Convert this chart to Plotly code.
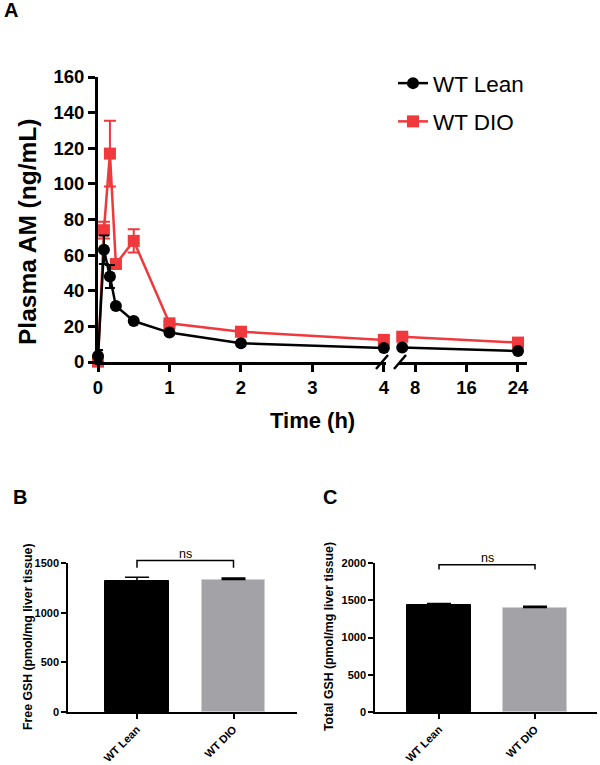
import plotly.graph_objects as go

# ---- Panel A: plasma AM time course ----
time_early = [0, 0.083, 0.167, 0.25, 0.5, 1, 2, 4]
time_late = [6, 24]
lean_early = [3.4, 63, 48, 31.5, 23, 16.5, 10.5, 7.8]
lean_early_err = [3.3, 8, 6.5, 1.0, 1.0, 1.0, 0.8, 0.5]
lean_late = [8.2, 6.2]
lean_late_err = [0.5, 0.5]
dio_early = [0.2, 74, 117, 55, 68, 21.7, 17, 12.4]
dio_early_err = [0.5, 4.7, 18.5, 1.5, 6.5, 1.0, 1.0, 0.8]
dio_late = [14.2, 10.9]
dio_late_err = [0.8, 0.8]

# ---- Panels B and C: GSH bars ----
groups = ['WT Lean', 'WT DIO']
free_gsh = [1322, 1333]
free_gsh_err = [34, 16]
total_gsh = [1435, 1402]
total_gsh_err = [20, 16]

BLACK = '#000000'
RED = '#F0393C'
GRAY = '#A3A3A7'
FONT = 'Liberation Sans, Arial, sans-serif'

W, H = 600, 765


def px_x(p):
    return p / W


def px_y(p):
    return 1 - p / H


def to_paper(v, dom, rng):
    return dom[0] + (v - rng[0]) / (rng[1] - rng[0]) * (dom[1] - dom[0])


xa_dom = [px_x(98), px_x(386)]
xa2_dom = [px_x(399), px_x(527)]
ya_dom = [px_y(362), px_y(77)]
xa_rng = [0, 4.03]
xa2_rng = [5.5, 25.4]

xb_dom = [px_x(68), px_x(297)]
xb_rng = [-0.715, 1.658]
yb_dom = [px_y(712), px_y(563)]
yb_rng = [0, 1500]

xc_dom = [px_x(375), px_x(597)]
xc_rng = [-0.667, 1.646]
yc_dom = [px_y(712), px_y(563)]
yc_rng = [0, 2000]

fig = go.Figure()


def add_series(name, color, symbol, t1, v1, e1, t2, v2, e2, rank, cap):
    common = dict(
        mode='lines+markers',
        line=dict(color=color, width=2.5),
        marker=dict(color=color, size=12, symbol=symbol),
        cliponaxis=False,
        legendgroup=name,
    )
    fig.add_trace(go.Scatter(
        x=t1, y=v1, name=name, xaxis='x', yaxis='y', showlegend=True,
        legendrank=rank,
        error_y=dict(type='data', array=e1, color=color, thickness=2, width=cap),
        **common
    ))
    fig.add_trace(go.Scatter(
        x=t2, y=v2, name=name, xaxis='x2', yaxis='y', showlegend=False,
        error_y=dict(type='data', array=e2, color=color, thickness=2, width=cap),
        **common
    ))


add_series('WT DIO', RED, 'square', time_early, dio_early, dio_early_err,
           time_late, dio_late, dio_late_err, 2, 6)
add_series('WT Lean', BLACK, 'circle', time_early, lean_early, lean_early_err,
           time_late, lean_late, lean_late_err, 1, 5)

# bars
fig.add_trace(go.Bar(
    x=groups, y=free_gsh, xaxis='x3', yaxis='y3', width=0.663, showlegend=False,
    marker=dict(color=[BLACK, GRAY], line=dict(color=[BLACK, '#d0d0d0'], width=1)),
    error_y=dict(type='data', array=free_gsh_err, arrayminus=[0, 0], symmetric=False,
                 color=BLACK, thickness=1.5, width=12),
))
fig.add_trace(go.Bar(
    x=groups, y=total_gsh, xaxis='x4', yaxis='y4', width=0.66, showlegend=False,
    marker=dict(color=[BLACK, GRAY], line=dict(color=[BLACK, '#d0d0d0'], width=1)),
    error_y=dict(type='data', array=total_gsh_err, arrayminus=[0, 0], symmetric=False,
                 color=BLACK, thickness=1.5, width=12),
))

axis_a = dict(showline=True, linecolor=BLACK, linewidth=3, ticks='outside',
              tickwidth=3, ticklen=7, tickcolor=BLACK, showgrid=False, zeroline=False,
              automargin=False,
              tickfont=dict(family=FONT, size=18.5, color=BLACK, weight='bold'))
axis_b = dict(showline=True, linecolor=BLACK, linewidth=1.5, ticks='outside',
              tickwidth=1.5, ticklen=5, tickcolor=BLACK, showgrid=False, zeroline=False,
              automargin=False,
              tickfont=dict(family=FONT, size=11, color=BLACK, weight='bold'))

fig.update_layout(
    width=W, height=H,
    margin=dict(l=0, r=0, t=0, b=0, pad=0, autoexpand=False),
    paper_bgcolor='white', plot_bgcolor='white',
    font=dict(family=FONT, color=BLACK),
    bargap=0,
    xaxis=dict(domain=xa_dom, range=xa_rng, anchor='y', tickvals=[0, 1, 2, 3, 4], **axis_a),
    xaxis2=dict(domain=xa2_dom, range=xa2_rng, anchor='y', tickvals=[8, 16, 24], **axis_a),
    yaxis=dict(domain=ya_dom, range=[0, 160], anchor='x', tickvals=list(range(0, 161, 20)), **axis_a),
    xaxis3=dict(domain=xb_dom, range=xb_rng, anchor='y3', type='category', tickangle=-45, **axis_b),
    yaxis3=dict(domain=yb_dom, range=yb_rng, anchor='x3', tickvals=[0, 500, 1000, 1500], **axis_b),
    xaxis4=dict(domain=xc_dom, range=xc_rng, anchor='y4', type='category', tickangle=-45, **axis_b),
    yaxis4=dict(domain=yc_dom, range=yc_rng, anchor='x4', tickvals=[0, 500, 1000, 1500, 2000], **axis_b),
    legend=dict(x=px_x(393), y=px_y(62), xanchor='left', yanchor='top',
                font=dict(family=FONT, size=22.5, color=BLACK),
                bgcolor='rgba(0,0,0,0)', tracegroupgap=6, itemwidth=30),
)

annotations = [
    dict(text='<b>A</b>', x=px_x(2), y=px_y(10), xanchor='left', yanchor='middle', font=dict(size=20)),
    dict(text='<b>B</b>', x=px_x(11), y=px_y(497), xanchor='left', yanchor='middle', font=dict(size=20)),
    dict(text='<b>C</b>', x=px_x(321), y=px_y(497), xanchor='left', yanchor='middle', font=dict(size=20)),
    dict(text='<b>Plasma AM (ng/mL)</b>', x=px_x(27), y=px_y(232), textangle=-90,
         xanchor='center', yanchor='middle', font=dict(size=24.5)),
    dict(text='<b>Time (h)</b>', x=px_x(312), y=px_y(420), xanchor='center', yanchor='middle',
         font=dict(size=22)),
    dict(text='<b>Free GSH (pmol/mg liver tissue)</b>', x=px_x(28), y=px_y(637), textangle=-90,
         xanchor='center', yanchor='middle', font=dict(size=12.3)),
    dict(text='<b>Total GSH (pmol/mg liver tissue)</b>', x=px_x(329), y=px_y(637), textangle=-90,
         xanchor='center', yanchor='middle', font=dict(size=12.3)),
]

shapes = []
# axis break marks
for cx in [382, 400]:
    shapes.append(dict(type='line', xref='paper', yref='paper',
                       x0=px_x(cx - 6), y0=px_y(369), x1=px_x(cx + 6), y1=px_y(355),
                       line=dict(color=BLACK, width=2.5)))

# significance brackets
for dom_x, rng_x, dom_y, rng_y, top, leg in [
    (xb_dom, xb_rng, yb_dom, yb_rng, 1525, 1452),
    (xc_dom, xc_rng, yc_dom, yc_rng, 1975, 1912),
]:
    xl = to_paper(0, dom_x, rng_x)
    xr = to_paper(1, dom_x, rng_x)
    yt = to_paper(top, dom_y, rng_y)
    yl = to_paper(leg, dom_y, rng_y)
    shapes.append(dict(type='path', xref='paper', yref='paper',
                       path=f'M {xl},{yl} L {xl},{yt} L {xr},{yt} L {xr},{yl}',
                       line=dict(color=BLACK, width=1.5)))
    annotations.append(dict(text='ns', x=(xl + xr) / 2, y=yt, xanchor='center', yanchor='bottom',
                            font=dict(size=12.5), yshift=-2))

for a in annotations:
    a.setdefault('showarrow', False)
    a.setdefault('xref', 'paper')
    a.setdefault('yref', 'paper')
    a['font'] = dict(family=FONT, color=BLACK, **a['font'])

fig.update_layout(annotations=annotations, shapes=shapes)

# page body has a default margin; drop it so the figure sits at the window origin
fig.write_html('out.html', config={'displayModeBar': False},
               post_script="document.body.style.margin='0';")
